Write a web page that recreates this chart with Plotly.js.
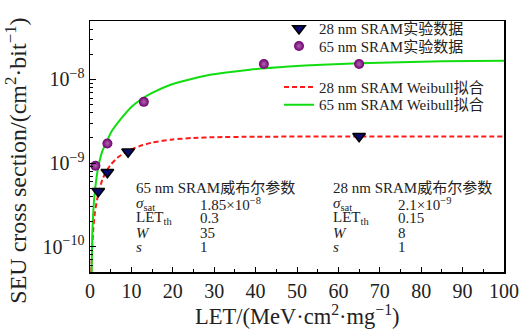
<!DOCTYPE html>
<html><head><meta charset="utf-8">
<script src="https://cdn.plot.ly/plotly-3.0.1.min.js"></script>
<style>html,body{margin:0;padding:0;background:#fff}</style>
</head><body><div id="chart" style="width:521px;height:329px"></div>
<script>
// Experimental data
const let28 = [2, 4.2, 9.2, 65];
const sig28 = [4.6e-10, 7.8e-10, 1.37e-9, 2.1e-9];
const let65 = [1.3, 4.2, 13, 42, 65];
const sig65 = [9.3e-10, 1.72e-9, 5.4e-9, 1.53e-8, 1.53e-8];
// Weibull fit curves
const fitLet65 = [0.4, 0.6, 1, 1.5, 2, 3, 4.35, 5, 7.5, 10, 12.4, 15, 19.3, 25, 29, 38.6, 48, 56, 65, 75, 85, 100];
const fitSig65 = [5e-11, 1.6e-10, 3.7e-10, 6.3e-10, 9e-10, 1.4e-9, 1.95e-9, 2.3e-9, 3.4e-9, 4.7e-9, 5.8e-9, 6.9e-9, 8.6e-9, 1.03e-8, 1.14e-8, 1.31e-8, 1.43e-8, 1.50e-8, 1.56e-8, 1.61e-8, 1.65e-8, 1.68e-8];
const fitLet28 = [0.3, 0.5, 0.8, 1.2, 2, 3, 4, 5, 7, 9, 12, 15, 20, 25, 30, 40, 60, 80, 100];
const fitSig28 = [5e-11, 9e-11, 1.65e-10, 2.6e-10, 4.3e-10, 6.4e-10, 8.1e-10, 9.6e-10, 1.2e-9, 1.38e-9, 1.6e-9, 1.76e-9, 1.92e-9, 2.0e-9, 2.04e-9, 2.07e-9, 2.08e-9, 2.08e-9, 2.08e-9];
// Legend names
const names = ['28 nm SRAM实验数据', '65 nm SRAM实验数据', '28 nm SRAM Weibull拟合', '65 nm SRAM Weibull拟合'];
// Parameter table
const tableTitles = ['65 nm SRAM威布尔参数', '28 nm SRAM威布尔参数'];
const paramNames = ['<i>σ</i><sub>sat</sub>', 'LET<sub>th</sub>', '<i>W</i>', '<i>s</i>'];
const params65 = ['1.85×10<sup>−8</sup>', '0.3', '35', '1'];
const params28 = ['2.1×10<sup>−9</sup>', '0.15', '8', '1'];
const yMajor = [1e-10, 1e-9, 1e-8];
const yMajorText = ['10<sup>−10</sup>', '10<sup>−9</sup>', '10<sup>−8</sup>'];
const yMinor = [6e-11,7e-11,8e-11,9e-11,2e-10,3e-10,4e-10,5e-10,6e-10,7e-10,8e-10,9e-10,2e-9,3e-9,4e-9,5e-9,6e-9,7e-9,8e-9,9e-9,2e-8,3e-8,4e-8,5e-8];
const xMajor = [0,10,20,30,40,50,60,70,80,90,100];
const xMinor = [5,15,25,35,45,55,65,75,85,95];
const xTitle = 'LET/(MeV·cm<sup>2</sup>·mg<sup>−1</sup>)';
const yTitle = 'SEU cross section/(cm<sup>2</sup>·bit<sup>−1</sup>)';

const FONT = "'Liberation Serif', 'Noto Sans CJK SC', serif";
const TXT = '#222';

const traces = [
  {x: fitLet28, y: fitSig28, mode: 'lines', name: names[2], legend: 'legend3',
   line: {color: '#ff1a1a', width: 2, dash: '5px,3px', shape: 'spline', smoothing: 0.6}},
  {x: fitLet65, y: fitSig65, mode: 'lines', name: names[3], legend: 'legend4',
   line: {color: '#11dd11', width: 2, shape: 'spline', smoothing: 0.6}},
  {x: let28, y: sig28, mode: 'markers', name: names[0], legend: 'legend',
   marker: {symbol: 'triangle-down', size: 11, color: '#0a0a6e', line: {color: '#000', width: 1.5}}},
  {x: let65, y: sig65, mode: 'markers', name: names[1], legend: 'legend2',
   marker: {symbol: 'circle', size: 10, color: '#6e006e', line: {width: 0},
            gradient: {type: 'radial', color: '#b064b0'}}}
];

const ann = [];
const px = (p) => (p - 90) / 414;
const py = (p) => (272 - p) / 257;
const rowsY = [202, 217, 232, 246];
function addTable(x0, x1, title, vals) {
  ann.push({xref: 'paper', yref: 'paper', x: px(x0), y: py(186), xanchor: 'left', yanchor: 'middle',
            text: title, showarrow: false, font: {family: FONT, size: 15, color: TXT}});
  for (let i = 0; i < paramNames.length; i++) {
    ann.push({xref: 'paper', yref: 'paper', x: px(x0), y: py(rowsY[i]), xanchor: 'left', yanchor: 'middle',
              text: paramNames[i], showarrow: false, font: {family: FONT, size: 15, color: TXT}});
    ann.push({xref: 'paper', yref: 'paper', x: px(x1), y: py(rowsY[i]), xanchor: 'left', yanchor: 'middle',
              text: vals[i], showarrow: false, font: {family: FONT, size: 15, color: TXT}});
  }
}
addTable(134, 198, tableTitles[0], params65);
addTable(331, 396, tableTitles[1], params28);
// axis titles as annotations (placed as in the reference)
ann.push({xref: 'paper', yref: 'paper', x: px(297), y: py(316), xanchor: 'center', yanchor: 'middle',
          text: xTitle, showarrow: false, font: {family: FONT, size: 22.5, color: TXT}});
ann.push({xref: 'paper', yref: 'paper', x: px(16), y: py(158), xanchor: 'center', yanchor: 'middle',
          textangle: -90, text: yTitle, showarrow: false, font: {family: FONT, size: 24, color: TXT}});

const rowTop = (c) => py(c - 20);
const legendBase = {xanchor: 'left', yanchor: 'top', bgcolor: 'rgba(0,0,0,0)', borderwidth: 0,
                    font: {family: FONT, size: 15, color: TXT}, itemwidth: 30};
const L = (c) => Object.assign({}, legendBase, {x: px(279), y: rowTop(c)});

const layout = {
  width: 521, height: 329,
  margin: {l: 90, r: 17, t: 15, b: 57},
  paper_bgcolor: '#fff', plot_bgcolor: '#fff',
  font: {family: FONT, color: TXT},
  showlegend: true,
  legend: L(26), legend2: L(44), legend3: L(86), legend4: L(104),
  xaxis: {range: [0, 100], tickvals: xMajor, ticks: 'inside', ticklen: 5,
          tickcolor: '#000', linecolor: '#000', linewidth: 1.5, mirror: true, showgrid: false, zeroline: false,
          tickfont: {family: FONT, size: 20, color: TXT},
          minor: {tickvals: xMinor, ticks: 'inside', ticklen: 3, tickcolor: '#000', showgrid: false}},
  yaxis: {type: 'log', range: [Math.log10(5e-11), Math.log10(5e-8)], tickvals: yMajor, ticktext: yMajorText,
          ticks: 'inside', ticklen: 6, tickcolor: '#000', linecolor: '#000', linewidth: 1.5, mirror: true,
          showgrid: false, zeroline: false, tickfont: {family: FONT, size: 20, color: TXT},
          minor: {tickvals: yMinor, ticks: 'inside', ticklen: 3, tickcolor: '#000', showgrid: false}},
  annotations: ann
};
Plotly.newPlot('chart', traces, layout, {displayModeBar: false, staticPlot: true});
</script></body></html>
